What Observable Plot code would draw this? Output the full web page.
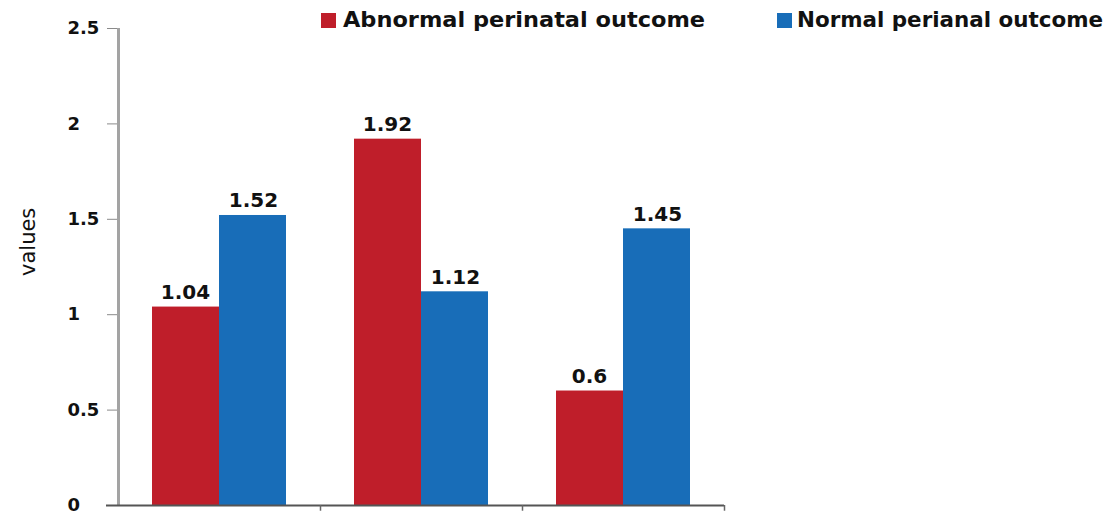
<!DOCTYPE html>
<html>
<head>
<meta charset="utf-8">
<script src="https://cdn.jsdelivr.net/npm/d3@7"></script>
<script src="https://cdn.jsdelivr.net/npm/@observablehq/plot@0.6"></script>
<style>
  html, body { margin: 0; padding: 0; background: #fff; }
  #wrap { position: relative; width: 1118px; height: 521px; font-family: "DejaVu Sans", sans-serif; }
  #legend { position: absolute; left: 0; top: 0; pointer-events: none; }
</style>
</head>
<body>
<div id="wrap"></div>
<script>
// ---- data ----
const categories = ["Group 1", "Group 2", "Group 3"];
const seriesNames = ["Abnormal perinatal outcome", "Normal perianal outcome"];
const abnormalValues = [1.04, 1.92, 0.6];
const normalValues = [1.52, 1.12, 1.45];
const yTicks = [0, 0.5, 1, 1.5, 2, 2.5];
const seriesColors = ["#BF1E2A", "#186DB8"];
const yLabel = "values";

const abnormal = categories.map((c, i) => ({category: c, series: seriesNames[0], value: abnormalValues[i]}));
const normal = categories.map((c, i) => ({category: c, series: seriesNames[1], value: normalValues[i]}));

const labelStyle = {fontSize: 20, fontWeight: "bold", fill: "#111", lineAnchor: "bottom", dy: -8};

const chart = Plot.plot({
  width: 1118,
  height: 521,
  marginTop: 28,
  marginBottom: 16,
  marginLeft: 118,
  marginRight: 394,
  style: {fontFamily: "DejaVu Sans, sans-serif", background: "#fff", overflow: "visible"},
  x: {domain: categories, padding: 0, axis: null},
  y: {domain: [0, 2.5]},
  marks: [
    Plot.barY(abnormal, {x: "category", y: "value", fill: seriesColors[0], insetLeft: 34, insetRight: 101}),
    Plot.barY(normal, {x: "category", y: "value", fill: seriesColors[1], insetLeft: 101, insetRight: 34}),
    Plot.text(abnormal, {x: "category", y: "value", text: d => String(d.value), dx: -34, ...labelStyle}),
    Plot.text(normal, {x: "category", y: "value", text: d => String(d.value), dx: 34, ...labelStyle}),
    Plot.axisY({ticks: yTicks, tickSize: 11, tickPadding: 40, textAnchor: "start",
      tickFormat: d => String(d), fontSize: 18, fontWeight: "bold", fill: "#111", stroke: "#8a8a8a", label: null}),
    Plot.ruleX([categories[0]], {dx: -101, stroke: "#a3a3a3", strokeWidth: 3}),
    Plot.ruleY([0], {stroke: "#555", strokeWidth: 2, insetLeft: -12}),
    Plot.ruleX(categories, {dx: 101, y1: 0, y2: -0.03, stroke: "#666", strokeWidth: 1.5}),
    Plot.text([yLabel], {frameAnchor: "left", rotate: -90, dx: -90, dy: 9, fontSize: 21, fill: "#111"})
  ]
});

const wrap = document.getElementById("wrap");
wrap.appendChild(chart);

// legend overlay
const ns = "http://www.w3.org/2000/svg";
const leg = document.createElementNS(ns, "svg");
leg.setAttribute("id", "legend");
leg.setAttribute("width", 1118);
leg.setAttribute("height", 40);
const legendItems = [
  {x: 321, tx: 343, len: 362},
  {x: 777, tx: 797, len: 306}
];
legendItems.forEach((it, i) => {
  const r = document.createElementNS(ns, "rect");
  r.setAttribute("x", it.x); r.setAttribute("y", 13);
  r.setAttribute("width", 15); r.setAttribute("height", 15);
  r.setAttribute("fill", seriesColors[i]);
  leg.appendChild(r);
  const t = document.createElementNS(ns, "text");
  t.setAttribute("x", it.tx); t.setAttribute("y", 27);
  t.setAttribute("font-size", 21);
  t.setAttribute("font-weight", "bold");
  t.setAttribute("font-family", "DejaVu Sans, sans-serif");
  t.setAttribute("fill", "#111");
  t.setAttribute("textLength", it.len);
  t.setAttribute("lengthAdjust", "spacingAndGlyphs");
  t.textContent = seriesNames[i];
  leg.appendChild(t);
});
wrap.appendChild(leg);
</script>
</body>
</html>
